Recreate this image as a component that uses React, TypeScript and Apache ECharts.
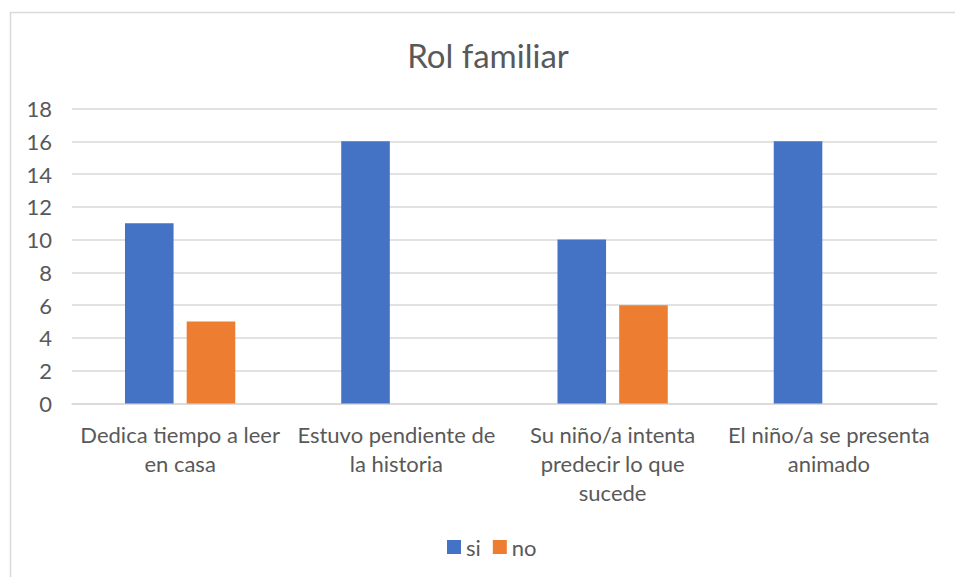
import React, { useEffect, useRef } from "react";
import * as echarts from "echarts";

const title = "Rol familiar";
const categories = [
  "Dedica tiempo a leer\nen casa",
  "Estuvo pendiente de\nla historia",
  "Su niño/a intenta\npredecir lo que\nsucede",
  "El niño/a se presenta\nanimado",
];
const seriesNames = ["si", "no"];
const siValues = [11, 16, 10, 16];
const noValues = [5, 0, 6, 0];
const yMin = 0;
const yMax = 18;
const yInterval = 2;

const FONT = "Lato, 'Open Sans', sans-serif";
const TEXT = "#595959";

export default function App() {
  const ref = useRef<HTMLDivElement>(null);
  useEffect(() => {
    if (!ref.current) return;
    const chart = echarts.init(ref.current, null, { renderer: "svg" });
    chart.setOption({
      animation: false,
      backgroundColor: "#ffffff",
      textStyle: { fontFamily: FONT },
      graphic: [
        {
          type: "rect",
          left: 8,
          top: 10,
          shape: { width: 1000, height: 1000 },
          style: { fill: "none", stroke: "#d9d9d9", lineWidth: 1.5 },
          silent: true,
        },
        {
          type: "text",
          x: 488,
          y: 55,
          style: {
            text: title,
            fontFamily: FONT,
            fontSize: 33,
            fill: TEXT,
            align: "center",
            verticalAlign: "middle",
          },
          silent: true,
        },
      ],
      legend: {
        data: seriesNames,
        left: 447,
        top: 536,
        padding: 0,
        itemWidth: 14,
        itemHeight: 14,
        itemGap: 12,
        icon: "rect",
        textStyle: { fontFamily: FONT, fontSize: 22, color: TEXT },
      },
      grid: { left: 72, right: 18, top: 108.5, bottom: 173.5, containLabel: false },
      xAxis: {
        type: "category",
        data: categories,
        axisLine: { lineStyle: { color: "#d9d9d9", width: 1.5 } },
        axisTick: { show: false },
        axisLabel: {
          interval: 0,
          fontFamily: FONT,
          fontSize: 22,
          color: TEXT,
          lineHeight: 29,
          margin: 16,
          align: "center",
        },
      },
      yAxis: {
        type: "value",
        min: yMin,
        max: yMax,
        interval: yInterval,
        axisLine: { show: false },
        axisTick: { show: false },
        splitLine: { lineStyle: { color: "#d9d9d9", width: 1.5 } },
        axisLabel: { fontFamily: FONT, fontSize: 22, color: TEXT, margin: 20 },
      },
      series: [
        {
          name: seriesNames[0],
          type: "bar",
          data: siValues,
          itemStyle: { color: "#4472C4" },
          barGap: "27%",
          barCategoryGap: "49%",
        },
        {
          name: seriesNames[1],
          type: "bar",
          data: noValues,
          itemStyle: { color: "#ED7D31" },
          barGap: "27%",
          barCategoryGap: "49%",
        },
      ],
    });
    return () => chart.dispose();
  }, []);
  return (
    <div
      ref={ref}
      style={{ position: "fixed", left: 0, top: 0, width: 955, height: 577 }}
    />
  );
}
